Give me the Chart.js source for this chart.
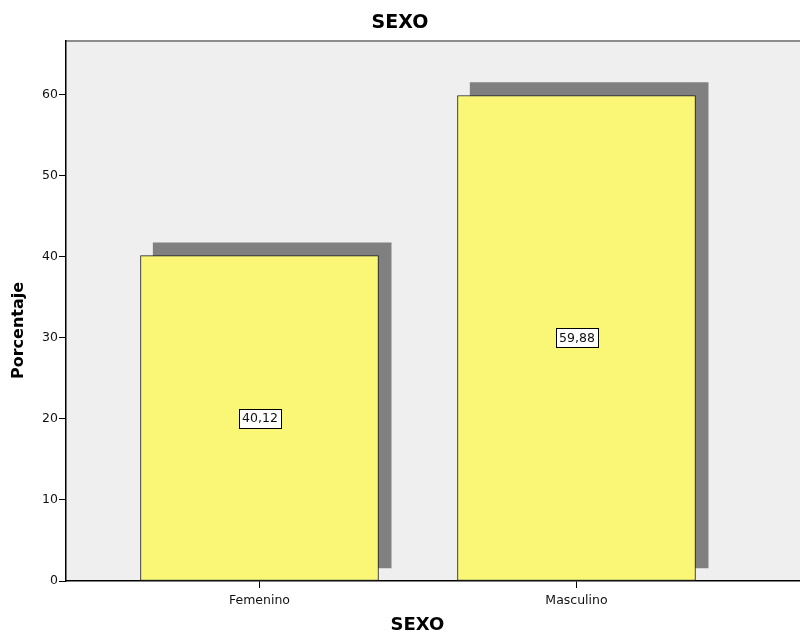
<!DOCTYPE html>
<html>
<head>
<meta charset="utf-8">
<script src="https://cdn.jsdelivr.net/npm/chart.js@4/dist/chart.umd.min.js"></script>
<style>
html,body{margin:0;padding:0;background:#fff;}
#c{display:block;}
</style>
</head>
<body>
<canvas id="c" width="800" height="636"></canvas>
<script>
const categories = ['Femenino', 'Masculino'];
const percentages = [40.12, 59.88];
const yTicks = [0, 10, 20, 30, 40, 50, 60];
const chartTitle = 'SEXO';
const xTitle = 'SEXO';
const yTitle = 'Porcentaje';

const SHADOW_DX = 0.04;   // shadow offset along x (category units)
const SHADOW_DY = 1.6;    // shadow offset along y (value units)

const barData = percentages.map((v, i) => ({x: i, y: v}));
const shadowData = percentages.map((v, i) => ({x: i + SHADOW_DX, y: [SHADOW_DY, v + SHADOW_DY]}));

const bgPlugin = {
  id: 'bg',
  beforeDraw(chart) {
    const {ctx, chartArea: a} = chart;
    ctx.save();
    ctx.fillStyle = '#ffffff';
    ctx.fillRect(0, 0, chart.width, chart.height);
    ctx.fillStyle = '#efefef';
    ctx.fillRect(a.left, a.top, a.right - a.left, a.bottom - a.top);
    ctx.strokeStyle = '#8c8c8c';
    ctx.lineWidth = 2;
    ctx.beginPath();
    ctx.moveTo(a.left, a.top);
    ctx.lineTo(a.right, a.top);
    ctx.stroke();
    ctx.restore();
  }
};

const labelPlugin = {
  id: 'valueLabels',
  afterDatasetsDraw(chart) {
    const {ctx} = chart;
    const meta = chart.getDatasetMeta(0);
    ctx.save();
    ctx.font = '12.5px "DejaVu Sans"';
    ctx.textAlign = 'center';
    ctx.textBaseline = 'middle';
    meta.data.forEach((el, i) => {
      const txt = percentages[i].toFixed(2).replace('.', ',');
      const cx = el.x;
      const cy = (el.y + el.base) / 2;
      const w = ctx.measureText(txt).width + 6;
      const h = 19;
      ctx.fillStyle = '#ffffff';
      ctx.fillRect(Math.round(cx - w / 2) + 0.5, Math.round(cy - h / 2) + 0.5, Math.round(w), h);
      ctx.strokeStyle = '#000000';
      ctx.lineWidth = 1;
      ctx.strokeRect(Math.round(cx - w / 2) + 0.5, Math.round(cy - h / 2) + 0.5, Math.round(w), h);
      ctx.fillStyle = '#111111';
      ctx.fillText(txt, cx + 0.5, cy + 1);
    });
    ctx.restore();
  }
};

new Chart(document.getElementById('c'), {
  type: 'bar',
  data: {
    datasets: [
      {
        label: 'Porcentaje',
        data: barData,
        backgroundColor: '#f9f775',
        borderColor: '#222222',
        borderWidth: 1,
        borderSkipped: false,
        barThickness: 238,
        order: 0
      },
      {
        label: 'shadow',
        data: shadowData,
        backgroundColor: '#808080',
        borderWidth: 0,
        barThickness: 238,
        order: 1
      }
    ]
  },
  options: {
    responsive: false,
    devicePixelRatio: 1,
    animation: false,
    layout: {padding: {left: 0, right: 0, top: 0, bottom: 0}},
    datasets: {bar: {grouped: false}},
    plugins: {
      legend: {display: false},
      tooltip: {enabled: false},
      title: {
        display: true,
        text: chartTitle,
        color: '#000',
        font: {family: '"DejaVu Sans"', size: 19, weight: 'bold'},
        padding: {top: 12, bottom: 6.2}
      }
    },
    scales: {
      x: {
        type: 'linear',
        offset: false,
        min: -0.6104,
        max: 1.7051,
        afterBuildTicks: (axis) => { axis.ticks = categories.map((c, i) => ({value: i})); },
        afterFit: (axis) => { axis.height = 55; },
        ticks: {
          callback: (v) => categories[v],
          color: '#111',
          font: {family: '"DejaVu Sans"', size: 12.5},
          padding: 5,
          maxRotation: 0
        },
        grid: {display: true, offset: false, drawOnChartArea: false, drawTicks: true, tickLength: 7, color: '#000', lineWidth: 1},
        border: {display: true, color: '#000', width: 1.5},
        title: {
          display: true,
          text: xTitle + '     ',
          color: '#000',
          font: {family: '"DejaVu Sans"', size: 18, weight: 'bold'},
          padding: {top: 0, bottom: 0}
        }
      },
      y: {
        type: 'linear',
        min: 0,
        max: 66.6,
        afterBuildTicks: (axis) => { axis.ticks = yTicks.map(v => ({value: v})); },
        afterFit: (axis) => { axis.width = 66; },
        ticks: {
          color: '#111',
          font: {family: '"DejaVu Sans"', size: 12.5},
          padding: 1
        },
        grid: {display: true, drawOnChartArea: false, drawTicks: true, tickLength: 7, color: '#000', lineWidth: 1},
        border: {display: true, color: '#000', width: 1.5},
        title: {
          display: true,
          text: yTitle + '       ',
          color: '#000',
          font: {family: '"DejaVu Sans"', size: 16, weight: 'bold'},
          padding: {top: 9.4, bottom: 0}
        }
      }
    }
  },
  plugins: [bgPlugin, labelPlugin]
});
</script>
</body>
</html>
